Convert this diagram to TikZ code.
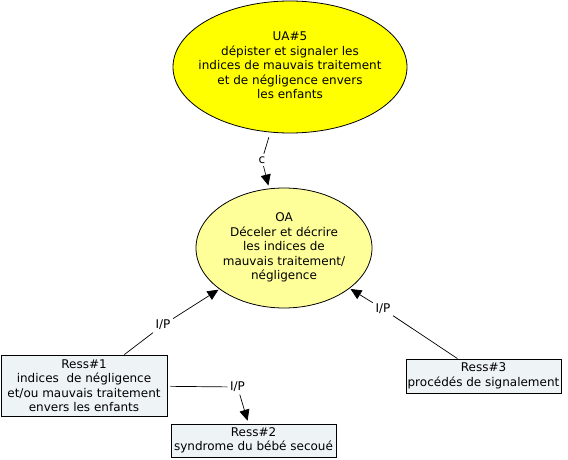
\documentclass[tikz,border=0pt]{standalone}
\usepackage{fontspec}
\setmainfont{DejaVu Sans}
\usetikzlibrary{shapes.geometric,arrows.meta}
\definecolor{uafill}{RGB}{255,255,0}
\definecolor{oafill}{RGB}{255,255,153}
\definecolor{resfill}{RGB}{238,243,246}
\newcommand{\mltext}[1]{\makebox[0pt][c]{\begin{tabular}{@{}c@{}}#1\end{tabular}}}
\begin{document}
\begin{tikzpicture}[x=1pt,y=-1pt,
  every node/.style={font=\fontsize{12}{14.5}\selectfont},
  concept/.style={ellipse,draw=black,line width=0.8pt,inner sep=0pt},
  resbox/.style={rectangle,draw=black,line width=0.8pt,fill=resfill,inner sep=0pt,align=center},
  lbl/.style={inner sep=2.5pt},
  link/.style={line width=0.7pt},
  arr/.style={line width=0.7pt,-{Triangle[length=11pt,width=10pt]}}]
\fill[white] (0,0) rectangle (568,460);
\useasboundingbox (0,0) rectangle (568,460);
\node[concept,fill=uafill,minimum width=234pt,minimum height=132pt] (ua) at (290,67)
  {\mltext{UA\#5\\dépister et signaler les\\indices de mauvais traitement\\et de négligence envers\\les enfants}};
\node[concept,fill=oafill,minimum width=176pt,minimum height=120pt] (oa) at (284,248)
  {\mltext{OA\\Déceler et décrire\\les indices de\\mauvais traitement/\\négligence}};
\node[resbox,minimum width=166pt,minimum height=61pt] (r1) at (84,385.5)
  {Ress\#1\\indices~ de négligence\\et/ou mauvais traitement\\envers les enfants};
\node[resbox,minimum width=165pt,minimum height=33pt] (r2) at (253.5,440.5)
  {Ress\#2\\syndrome du bébé secoué};
\node[resbox,minimum width=155pt,minimum height=34pt] (r3) at (483.5,376)
  {Ress\#3\\procédés de signalement};
\node[lbl] (c) at (262,160) {c};
\node[lbl] (l1) at (163,325) {I/P};
\node[lbl] (l2) at (237.5,387) {I/P};
\node[lbl] (l3) at (383,309) {I/P};
\draw[link,shorten <=5pt] (ua) -- (c);
\draw[arr,shorten >=3pt] (c) -- (oa);
\draw[link] (r1) -- (l1);
\draw[arr,shorten >=1pt] (l1) -- (oa);
\draw[link,shorten <=3pt] (r1) -- (l2);
\draw[arr,shorten >=3pt] (l2) -- (r2);
\draw[link] (r3) -- (l3);
\draw[arr,shorten >=1pt] (l3) -- (oa);
\end{tikzpicture}
\end{document}
